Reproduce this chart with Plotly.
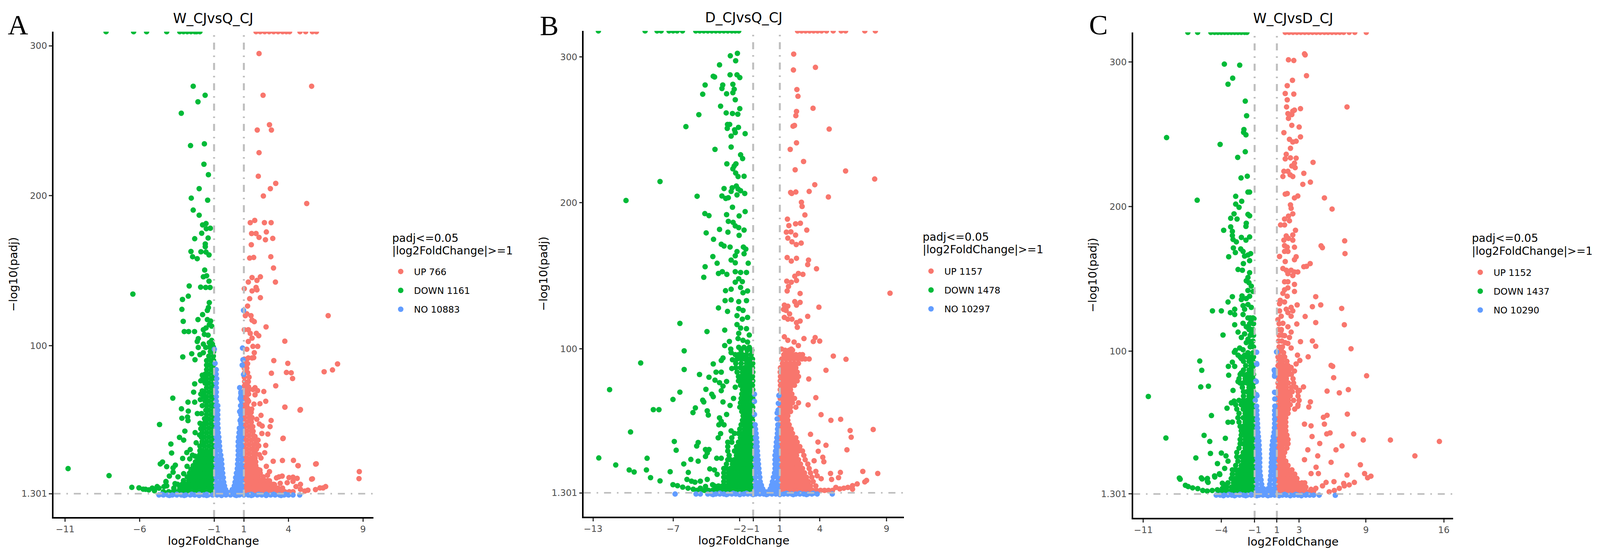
import plotly.graph_objects as go

RED, GREEN, BLUE = "#F8766D", "#00BA38", "#619CFF"
FONT = "DejaVu Sans"
LEGEND_LINES = ["padj<=0.05", "|log2FoldChange|>=1"]
TITLES = ["W_CJvsQ_CJ", "D_CJvsQ_CJ", "W_CJvsD_CJ"]
LETTERS = ["A", "B", "C"]
A_LABELS = ["UP 766", "DOWN 1161", "NO 10883"]
B_LABELS = ["UP 1157", "DOWN 1478", "NO 10297"]
C_LABELS = ["UP 1152", "DOWN 1437", "NO 10290"]
A_XTICKS = [-11, -6, -1, 1, 4, 9]
B_XTICKS = [-13, -7, -2, -1, 1, 4, 9]
C_XTICKS = [-11, -4, -1, 1, 3, 9, 16]
Y_TICKS = [1.301, 100, 200, 300]

# ---------- Panel A ----------
A_UP_PTS = [(1.82,309.4),(2.1,309.4),(2.4,309.4),(2.7,309.4),(3.0,309.4),(3.3,309.4),(3.6,309.4),(3.85,309.4),(4.07,309.4),(4.77,309.4),(5.15,309.4),(5.6,309.4),(5.87,309.4),
(2.02,294.8),(5.55,273),(2.29,267),(2.72,247.3),(1.9,243.8),(2.85,243.8),(2.02,228.7),(1.97,213),(3.14,208.2),(2.78,204.7),(2.31,199.8),(5.22,194.8),(1.43,182),(1.73,183.5),(2.38,182),(2.83,182),(1.52,174.8),(1.82,174.8),(2.51,175.8),(2.02,172.2),(2.45,170.6),(2.94,171.5),(1.5,167.3),(1.39,158.4),(1.66,158.8),(2.81,159.3),(2.99,151.8),(2.11,145.9),(1.55,145.4),(1.88,143.5),(1.3,142.4),(3.12,142.4),(1.03,138),(1.55,136.5),(1.82,138.8),(1.88,137.2),(2.11,132),(1.39,131.3),(1.25,126.4),(1.2,121.2),(1.48,120),(1.55,117),(1.7,116),(1.1,120),(6.66,120),(2.49,112.5),(1.03,110.6),(1.3,110.6),(1.43,108.2),(1.84,108.2),(2,106.6),(1.55,105),(1.3,102.8),(3.75,103),(1.93,99.5),(1.61,99.5),(1.2,97.6),(1.7,95.3),(1.55,91.8),(1.3,91.8),(1.66,92),(3.01,90),(3.95,88.2),(7.29,87.8),(6.95,83.8),(6.39,82.6),(3.86,82.1),(4.18,81.9),(2.85,81.6),(4.27,78.1),(3.14,73.2),
(2.34,69.4),(1.75,72),(1.92,70),(1.62,70.7),(1.75,67.2),(1.32,72.5),(1.32,67.7),(1.15,68),(2.47,62.9),(1.32,62.9),(1.11,63.3),(1.68,61),(2.08,61.3),(3.76,59),(4.8,57.4),(1.53,57.7),(1.24,58.6),(1.49,55.5),(2.15,53.5),(1.87,50.9),(2.83,50.1),(1.49,50.7),(2.04,47.7),(2.23,46.4),(2.76,46),(1.62,42.9),(2.21,41.4),(2.61,41),(3.64,38.3),(1.75,39.4),(1.83,36.8),(2.47,33.5),(2,33.2),(2.4,28.6),(1.7,30.7),(2.04,27.3),(2.15,25.1),(2.97,22.9),(3.59,23.4),(4.33,23.5),(5.86,21.2),(4.65,19.9),(2.51,19.5),(2.08,17),(2.72,16),(2.59,13.6),(3.19,11.8),(3.36,12.5),(3.57,13),(4.03,12),(4.3,12.3),(4.58,11.5),(4.3,9.5),(5.6,11.2),(3.91,8.6),(4.8,7.5),(4.5,6),(3.44,8.2),(3.06,7.3),(5.3,3.6),(5.81,4),(6.11,5.1),(6.49,6),(6.32,5.1),(4.8,4.2),(5.09,3),(2.72,9.9),(8.75,16),(8.73,11.3),(5.82,21),(5.55,11),(4.77,57),(3.75,59),(3.62,38),(4.63,20)]
A_UP_ROWS = [(2.6,[1.05,1.35,1.65,1.95,2.25,2.55,2.85,3.15,3.45,3.75,4.05,4.3]),(5,[1.03,1.2,1.5,1.8,2.1,2.4,2.7,3,3.3,3.6]),(7.5,[1.05,1.35,1.65,1.95,2.25,2.55,2.85,3]),(10,[1.03,1.2,1.5,1.8,2.1,2.4,2.6]),(12.5,[1.05,1.35,1.65,1.95,2.3]),(15,[1.03,1.2,1.5,1.8,2.1]),(17.5,[1.05,1.35,1.65,1.95]),(20,[1.03,1.2,1.5,1.8]),(22.5,[1.05,1.35,1.65,1.8]),(25,[1.03,1.2,1.5,1.75]),(28,[1.05,1.35,1.65,1.8]),(31,[1.03,1.2,1.5,1.85]),(34,[1.05,1.35,1.65,1.9]),(37,[1.03,1.2,1.5,1.8,1.95]),(40,[1.05,1.35,1.65]),(43,[1.03,1.2,1.5,1.6]),(46,[1.05,1.35,1.6]),(49,[1.03,1.2,1.5]),(52,[1.05,1.35,1.55]),(55,[1.03,1.2,1.4]),(58,[1.05,1.3]),(61,[1.03,1.2]),(64,[1.05,1.25]),(67,[1.03,1.2]),(70,[1.05,1.3]),(73,[1.03,1.25]),(76,[1.05,1.3]),(79,[1.03,1.35]),(82,[1.05,1.25]),(85,[1.03,1.2]),(88,[1.05,1.25]),(91,[1.03,1.2])]
A_DOWN_PTS = [(-8.25,309.4),(-6.4,309.4),(-5.53,309.4),(-4.18,309.4),(-3.3,309.4),(-3.05,309.4),(-2.8,309.4),(-2.55,309.4),(-2.3,309.4),(-2.17,309.4),(-1.95,309.4),
(-2.4,273),(-1.6,267),(-2.08,262.6),(-3.2,255),(-2.58,233.4),(-1.65,234.6),(-1.68,221),(-1.38,214),(-2,204.7),(-2.53,198.4),(-1.43,197),(-2.4,190.4),(-2,187),(-1.77,180.5),(-1.54,181.4),(-1.52,178),(-1.25,178.3),(-1.83,175),(-1.4,171.8),(-2.3,171.3),(-1.59,167.8),(-1.59,166),(-2.55,162.8),(-1.88,162.6),(-1.54,162.4),(-1.34,160.5),(-2.44,159.3),(-2.13,158),(-1.63,150.4),(-1.5,146.6),(-1.72,145.9),(-1.34,143),(-2.67,139.8),(-1.9,139),(-1.56,138.8),(-1.27,138.8),(-6.45,134.4),(-2.73,133),(-3.12,130.8),(-1.32,128.7),(-1.38,125.4),(-3.16,124.2),(-1.77,120.7),(-1.45,123.5),(-2.08,117.4),(-3.07,116.2),(-1.45,117.4),(-1.23,116.4),(-1.32,114),(-1.54,111.8),(-1.72,110.6),(-1.16,113),(-3,109.4),(-2.71,109.4),(-2.31,109.4),(-1.65,107.5),(-1.4,107),(-2.06,104.7),(-2.13,102.8),(-1.72,101),(-1.16,103.5),(-1.32,102),(-1.11,101),(-1.56,98.8),(-2.06,98.8),(-2.5,94.6),(-3.1,92.5),(-2.28,90.6),(-1.95,94),(-1.72,95.3),
(-2.3,74.5),(-2.37,69),(-3.77,65),(-1.89,76.6),(-1.79,80.3),(-1.79,69.8),(-1.89,67.7),(-1.92,64),(-2.3,62.3),(-2.75,62.3),(-1.79,60),(-3.19,57.9),(-2.73,56.3),(-2.12,54.7),(-1.84,54.7),(-3.16,51.6),(-2.78,52.4),(-2.75,50),(-1.64,51.3),(-4.66,47.4),(-1.94,48.2),(-2.96,43),(-2.27,42),(-1.97,40.4),(-1.89,44.6),(-3.32,38.8),(-3.04,37),(-2.2,35.2),(-1.79,34.6),(-3.9,34.4),(-3.85,28.4),(-2.6,30.7),(-2.83,28.7),(-2.45,27),(-2.27,26.3),(-3.11,24.8),(-2.63,24.5),(-4.46,22.4),(-4.61,21.1),(-4.18,19.3),(-3.6,20.3),(-3.75,18.5),(-2.81,19.5),(-3.75,15.6),(-4,13),(-4.23,9.1),(-3.04,14.6),(-3.42,12.5),(-3.62,8),
(-6.52,5.5),(-6.04,5.2),(-5.76,4.3),(-5.6,4.2),(-5.38,3.8),(-5.15,5),(-4.82,6),(-5,3.2),(-4.7,5),(-4.36,6),(-4.18,6.5),(-10.8,18),(-8.05,13.3),(-4.23,9.4)]
A_DOWN_ROWS = [(2.6,[-1.05,-1.35,-1.65,-1.95,-2.25,-2.55,-2.85,-3.15,-3.45,-3.75,-4.05,-4.4]),(5,[-1.03,-1.2,-1.5,-1.8,-2.1,-2.4,-2.7,-3,-3.3,-3.7]),(7.5,[-1.05,-1.35,-1.65,-1.95,-2.25,-2.55,-2.85,-3.15,-3.45]),(10,[-1.03,-1.2,-1.5,-1.8,-2.1,-2.4,-2.7,-3.05]),(12.5,[-1.05,-1.35,-1.65,-1.95,-2.25,-2.55,-2.8]),(15,[-1.03,-1.2,-1.5,-1.8,-2.1,-2.4,-2.65]),(17.5,[-1.05,-1.35,-1.65,-1.95,-2.25,-2.55]),(20,[-1.03,-1.2,-1.5,-1.8,-2.1,-2.4]),(22.5,[-1.05,-1.35,-1.65,-1.95,-2.25]),(25,[-1.03,-1.2,-1.5,-1.8,-2.1]),(27.5,[-1.05,-1.35,-1.65,-1.95]),(30,[-1.03,-1.2,-1.5,-1.8,-1.95]),(33,[-1.05,-1.35,-1.65,-1.95]),(36,[-1.03,-1.2,-1.5,-1.8]),(39,[-1.05,-1.35,-1.65,-1.85]),(42,[-1.03,-1.2,-1.5,-1.8]),(45,[-1.05,-1.35,-1.65,-1.85]),(48,[-1.03,-1.2,-1.5,-1.7]),(51,[-1.05,-1.35,-1.6]),(54,[-1.03,-1.2,-1.5]),(57,[-1.05,-1.35,-1.55]),(60,[-1.03,-1.2,-1.5]),(63,[-1.05,-1.35,-1.6]),(66,[-1.03,-1.2,-1.5,-1.7]),(69,[-1.05,-1.35,-1.65,-1.75]),(72,[-1.03,-1.2,-1.5]),(75,[-1.05,-1.35,-1.6]),(78,[-1.03,-1.2,-1.5,-1.75]),(81,[-1.05,-1.35,-1.6]),(84,[-1.03,-1.2,-1.5]),(87,[-1.05,-1.35,-1.5]),(90,[-1.03,-1.2,-1.5]),(93,[-1.05,-1.35]),(96,[-1.03,-1.25]),(99,[-1.05,-1.3])]
A_NO_PTS = [(0.98,123.5),(0.91,98.4),(0.94,90.6),(0.89,87),(0.98,80.7),(-0.98,97.6),(-0.93,88.2),(-0.82,78),(-0.86,81),(0.8,68.2),(0.76,64.7),(0.72,72),(0.78,60),(0.72,56),(0.75,50)]
A_NO_ROWS = [(0.4,[-4.7,-4.4,-4.1,-3.8,-3.5,-3.2,-2.9,-2.6,-2.3,-2,-1.7,-1.4,-1.1,-0.8,-0.5,-0.2,0.1,0.4,0.7,1,1.3,1.6,1.9,2.2,2.5,2.8,3.1,3.4,3.7,4,4.3,4.75]),(0.1,[-4,-3,-2,-1.5,-0.5,0.5,1.5,2.5,3.5]),(0.9,[-4.5,-3.5,-2.5,-2,-1.5,-0.5,0.5,1.5,2,2.5,3,3.8]),(2,[-0.85,-0.6,-0.35,-0.15,0,0.15,0.35,0.6,0.85]),(4,[-0.85,-0.6,-0.4,-0.22,0.22,0.4,0.6,0.85]),(6.5,[-0.85,-0.6,-0.3,0.36,0.6,0.85]),(9,[-0.85,-0.6,-0.35,0.41,0.6,0.85]),(12,[-0.85,-0.6,-0.38,0.45,0.65,0.85]),(15,[-0.85,-0.65,-0.42,0.5,0.7,0.85]),(18,[-0.85,-0.65,-0.45,0.56,0.75,0.85]),(21,[-0.85,-0.65,-0.48,0.58,0.85]),(24,[-0.85,-0.65,-0.5,0.6,0.85]),(27,[-0.85,-0.55,0.62,0.85]),(30,[-0.85,-0.6,0.62,0.85]),(33,[-0.85,-0.63,0.62,0.85]),(36,[-0.85,-0.65,0.62,0.85]),(39,[-0.85,-0.68,0.65,0.85]),(42,[-0.85,-0.72,0.68,0.85]),(45,[-0.85,-0.73,0.7,0.85]),(48,[-0.85,-0.75,0.8]),(51,[-0.85,-0.75,0.8]),(54,[-0.85,-0.75,0.8]),(57,[-0.85,-0.75,0.8]),(60,[-0.85,-0.75]),(63,[-0.85,0.85]),(66,[-0.85,0.8]),(69,[-0.85,0.8]),(72,[-0.85]),(75,[-0.85]),(84,[-0.85])]

# ---------- Panel B ----------
B_UP_PTS = [(2.33,317.8),(2.63,317.8),(2.93,317.8),(3.23,317.8),(3.53,317.8),(3.83,317.8),(4.13,317.8),(4.5,317.8),(5,317.8),(5.6,317.8),(5.93,317.8),(7.37,317.8),(8.16,317.8),
(2.04,301.9),(2.02,291),(3.67,292.8),(2.28,277.6),(2.36,273),(3.49,264.8),(2.25,262.6),(2.2,259.7),(1.99,252.5),(2.1,253),(4.7,250.5),(2.25,241.1),(1.78,236.6),(2.78,228.3),(2.15,222.6),(5.93,221.8),(8.11,216.3),(3.62,212.4),(1.81,207.1),(1.89,206.4),(2.2,207.4),(3.2,207.8),(4.64,204),(2.62,200.4),(2.67,197.5),(2.88,191.7),(1.57,188.8),(1.68,184.4),(2.18,185.6),(2.54,186),(3.02,181.3),(1.49,179.9),(1.83,180.1),(2.18,177.9),(1.6,175.8),(1.91,173.3),(2.23,171.4),(2.6,172.4),(1.55,162.5),(1.86,160.1),(2.25,162),(3.15,160.8),(3.09,157.7),(3.75,154.8),(2.73,151),(2.39,151.6),(2.12,149.7),(1.52,146.3),(1.86,145.6),(2.25,146.8),(1.65,142.7),(1.55,139.6),(2.52,137.9),(9.26,138.1),(2.12,132.3),(2.52,131.8),(2.25,129.9),(1.34,129.9),(1.6,129.2),(3.93,128.5),(1.28,127),(1.47,126.3),(1.73,123.9),(3.09,122.2),(1.34,121.5),(1.91,120.3),(2.25,117.9),(2.52,119),(1.6,120.3),(2.31,114.7),(1.34,108.2),(1.6,105.8),(2.81,107),(3.65,107.7),(3.51,105),(3.99,105.3),(2.07,104.6),(2.39,102.2),(1.13,99.8),(1.86,99.8),(5.01,95),(5.96,92.8),(4.46,85.3),(3.2,93),(3.17,79.3),(3.7,66.5),(3.12,61.6),(4.09,54.9),(4.83,51),(5.56,51.7),(8,44.7),(6.27,44),(6.35,39.4),(3.3,41.4),(3.86,36.1),(4.46,33.9),(6.03,30.8),(3.88,29.8),(4.22,25.7),(4.3,22.6),(3.57,23.3),(7.22,16),(8.34,14.6),(5.54,15.3),(4.8,14.6),(5.4,11.7),(4.88,10.5),(7.37,8.8),(7.5,9.8),(6.8,7.4),(6.45,6.2),(6.45,3.8),(5.8,4.5),(5.5,4),(5.2,5),(6.1,5),(3.8,13),(4.1,11),(3.7,16)]
B_UP_ROWS = [(3,[1.05,1.35,1.65,1.95,2.25,2.55,2.85,3.15,3.45,3.75,4.05,4.35,4.65,4.95]),(6,[1.03,1.2,1.5,1.8,2.1,2.4,2.7,3,3.3,3.7]),(9,[1.05,1.35,1.65,1.95,2.25,2.55,2.85,3.15,3.5]),(12,[1.03,1.2,1.5,1.8,2.1,2.4,2.7,3,3.4]),(15,[1.05,1.35,1.65,1.95,2.25,2.55,2.85,3.3]),(18,[1.03,1.2,1.5,1.8,2.1,2.4,2.7,3.2]),(21,[1.05,1.35,1.65,1.95,2.25,2.55,3.1]),(24,[1.03,1.2,1.5,1.8,2.1,2.4,2.9]),(27,[1.05,1.35,1.65,1.95,2.25,2.8]),(30,[1.03,1.2,1.5,1.8,2.1,2.4,2.7]),(33,[1.05,1.35,1.65,1.95,2.25,2.5]),(36,[1.03,1.2,1.5,1.8,2.1,2.3]),(39,[1.05,1.35,1.65,1.95,2.2]),(42,[1.03,1.2,1.5,1.8,1.95]),(45,[1.05,1.35,1.65,1.85]),(48,[1.03,1.2,1.5,1.7]),(51,[1.05,1.35,1.6]),(54,[1.03,1.2,1.5,1.6]),(57,[1.05,1.35,1.65,1.8]),(60,[1.03,1.2,1.5,1.8,2.2]),(63,[1.05,1.35,1.65,1.95,2.4]),(66,[1.03,1.2,1.5,1.8,2.1]),(69,[1.05,1.35,1.65,1.9]),(72,[1.03,1.2,1.5,1.8]),(75,[1.05,1.35,1.65,1.95,2.1]),(78,[1.03,1.2,1.5,1.8,2.1,2.3]),(81,[1.05,1.35,1.65,1.95,2.25,2.4]),(84,[1.03,1.2,1.5,1.8,2.1,2.3]),(87,[1.05,1.35,1.65,1.95,2.2]),(90,[1.2,1.5,1.8,2.1,2.4]),(93,[1.15,1.45,1.75,2.05,2.35,2.65,2.9]),(96,[1.3,1.6,1.9,2.2,2.5,2.7]),(99,[1.4,1.7,1.95])]
B_DOWN_PTS = [(-12.6,317.8),(-9.1,317.8),(-8.2,317.8),(-7.9,317.8),(-7.3,317.8),(-7,317.8),(-6.7,317.8),(-6.3,317.8),(-5.3,317.8),(-5,317.8),(-4.7,317.8),(-4.4,317.8),(-4.1,317.8),(-3.8,317.8),(-3.5,317.8),(-3.2,317.8),(-2.9,317.8),(-2.6,317.8),(-2.34,317.8),(-2.08,317.8),
(-2.18,302.4),(-2.71,300.7),(-2.31,297.3),(-3.52,294.5),(-2.73,287.7),(-2.21,287.7),(-2,285.8),(-3.99,286.7),(-3.89,286.2),(-4.6,280.7),(-3.28,280.7),(-2.52,281.2),(-3.34,278.3),(-2.42,277.8),(-2.99,274.7),(-4.78,274.4),(-2.52,275.4),(-2.34,270.6),(-3.44,266.2),(-2,264.5),(-3.02,261.6),(-2.55,261.2),(-2.15,260.7),(-5.07,260.4),(-2.92,253.7),(-2.76,253.7),(-6.04,252.2),(-2.94,251),(-2.1,251.7),(-2.39,250),(-1.6,247.4),(-2.65,245.7),(-2.34,248.1),(-2.65,238.2),(-3.86,236.6),(-1.94,232.9),(-1.79,230.3),(-2.97,226.7),(-2.29,226.7),(-2.42,225.2),(-2.52,223.3),(-2.31,220.4),(-2.13,218),(-1.68,218.2),(-7.98,214.6),(-3.18,209.8),(-2.57,210.3),(-2.26,211.5),(-2.65,207.8),(-2.13,209.5),(-1.94,208.3),(-1.63,206.4),(-3.34,204.7),(-5.2,204.5),(-2.86,203.5),(-2.21,205.4),(-10.53,201.6),(-3.05,203),(-2.55,197),(-4.62,192.6),(-4.31,191.2),(-2.99,191.9),(-2.05,191),(-1.6,194),(-2.86,187.3),(-2.5,186.6),(-2.34,184.2),(-3.52,181.8),(-4.52,179.4),(-2.89,179.9),(-2.08,183),(-1.68,181.3),(-2.05,177.7),(-3.97,175),(-3.39,171.6),(-3.18,170.4),(-2.73,169.7),(-1.73,169.7),(-1.55,168.3),(-2.21,166.6),(-2.34,163.7),(-1.68,165.1),(-4.02,163.2),(-2.65,160.8),(-1.37,158.6),(-3.7,158.6),(-4.6,156.2),(-2.34,158.9),(-4.7,149),(-3.31,152.8),(-3.6,151.6),(-2.97,151),(-2.34,152.8),(-1.94,152.3),(-1.5,152.3),(-2.08,148),(-1.81,146),(-2.34,145.6),(-3.07,139.8),(-2.65,140.8),(-1.94,142),(-1.42,139.6),(-1.76,138.4),(-3.1,133),(-2.65,133.5),(-2.08,132.3),(-1.5,133),(-3.6,128),(-2.92,125.6),(-2.08,127.5),(-1.76,126.3),(-2.21,122.7),(-1.42,121.5),(-1.81,120.3),(-2.21,116.6),(-6.49,117.4),(-1.94,114.2),(-1.5,113.8),(-4.46,111.8),(-3.13,112.8),(-2.08,110.6),(-1.29,109.4),(-2.13,107),(-2.78,105),(-3.13,102.2),(-1.76,105.8),(-1.42,104.6),(-2.68,99.8),(-2.08,101),(-6.17,98.6),(-2.65,97.4),(-1.68,101),(-1.29,101),(-2.34,96),(-3.26,93.7),(-2.55,92.5),(-3.39,92),(-9.43,90.3),(-3.99,89.6),(-6.17,85.8),(-2.6,86.5),(-3.39,84),(-3.78,84),(-5.02,82.4),(-4.31,80.5),(-3.86,78.5),(-2.99,77.6),(-3.52,76.8),(-3.26,74.4),(-2.34,73.7),(-11.76,72),(-4.54,72.2),(-6.49,70.3),(-3.39,71.3),(-4.1,68.9),(-7.01,65.3),(-4.78,64.8),(-3.99,67.2),(-4.7,63.6),(-2.47,66),(-3.26,63.6),(-8.48,58.3),(-8.06,58.3),(-5.33,59.5),(-5.51,56.3),(-4.44,57.5),(-4.36,54.6),(-2.73,61.2),(-2.99,55),(-3.52,52.7),(-3.57,47.9),(-3.39,50.3),(-10.19,43),(-3.18,47.9),(-2.65,43.8),(-3.44,41.9),(-3.62,39),(-6.91,36.5),(-5.12,35.8),(-5.23,33.4),(-6.77,30.5),(-4.57,31),(-4.31,31),(-4.44,28.6),(-4.57,26.2),(-12.57,25.2),(-8.95,25),(-5.67,24.2),(-5.12,23),(-6.2,21.1),(-3.73,25),(-3.39,25),(-11.3,20.4),(-10.29,17),(-9.92,15.6),(-9,17),(-7.22,15.8),(-5.86,15.3),(-4.25,17.7),(-3.9,17),(-3.7,14),(-8.69,11.7),(-5.96,10.5),(-5.62,9.3),(-5.36,8.6),(-4.96,9.3),(-7.98,9.5),(-4.44,10.5),(-4.04,6.9),(-7.01,6.9),(-6.67,6.2),(-6.28,5.2),(-5.88,4.5),(-5.49,3.8),(-4.96,4.5),(-4.57,5.7)]
B_DOWN_ROWS = [(3,[-1.05,-1.35,-1.65,-1.95,-2.25,-2.55,-2.85,-3.15,-3.45,-3.75,-4.05,-4.35,-4.65,-4.95,-5.2]),(6,[-1.03,-1.2,-1.5,-1.8,-2.1,-2.4,-2.7,-3,-3.3,-3.6,-3.9]),(9,[-1.05,-1.35,-1.65,-1.95,-2.25,-2.55,-2.85,-3.2]),(12,[-1.03,-1.2,-1.5,-1.8,-2.1,-2.4,-2.7,-3,-3.2]),(15,[-1.05,-1.35,-1.65,-1.95,-2.25,-2.55,-2.85,-3.2]),(18,[-1.03,-1.2,-1.5,-1.8,-2.1,-2.4,-2.7,-3,-3.2]),(21,[-1.05,-1.35,-1.65,-1.95,-2.25,-2.55,-3]),(24,[-1.03,-1.2,-1.5,-1.8,-2.1,-2.4,-2.7,-2.9]),(27,[-1.05,-1.35,-1.65,-1.95,-2.25,-2.8]),(30,[-1.03,-1.2,-1.5,-1.8,-2.1,-2.4,-2.9]),(33,[-1.05,-1.35,-1.65,-1.95,-2.25,-2.9]),(36,[-1.03,-1.2,-1.5,-1.8,-2.1,-2.6,-2.9]),(39,[-1.05,-1.35,-1.65,-1.95,-2.6]),(42,[-1.03,-1.2,-1.5,-1.8,-2.1,-2.4]),(45,[-1.05,-1.35,-1.65,-2]),(48,[-1.03,-1.2,-1.5,-1.8,-1.9]),(51,[-1.05,-1.35,-1.65,-1.8]),(54,[-1.03,-1.2,-1.5,-1.75]),(57,[-1.05,-1.35,-1.65,-1.85]),(60,[-1.03,-1.2,-1.5,-1.8,-2]),(63,[-1.05,-1.35,-1.65,-1.95]),(66,[-1.03,-1.2,-1.5,-1.8,-1.9]),(69,[-1.05,-1.35,-1.65,-1.85]),(72,[-1.03,-1.2,-1.5,-1.8]),(75,[-1.05,-1.35,-1.65,-1.95]),(78,[-1.03,-1.2,-1.5,-1.8,-2.1]),(81,[-1.05,-1.35,-1.65,-1.95,-2.1]),(84,[-1.03,-1.2,-1.5,-1.8,-2.2]),(87,[-1.05,-1.35,-1.65,-1.95,-2.3]),(90,[-1.03,-1.2,-1.5,-1.9,-2.3]),(93,[-1.05,-1.35,-1.65,-1.9,-2.2]),(96,[-1.15,-1.5,-1.8,-2.1]),(99,[-1.1,-1.45,-1.9])]
B_NO_PTS = [(-6.85,0.5),(-5.28,0.5),(-4.96,0.5),(4.93,0.5),(-0.9,68.9),(-0.9,64),(0.93,68),(0.89,62.6),(0.8,56),(0.8,52),(-0.9,55),(0.87,58)]
B_NO_ROWS = [(0.5,[-4.4,-4.1,-3.8,-3.5,-3.2,-2.9,-2.6,-2.3,-2,-1.7,-1.4,-1.1,-0.8,-0.5,-0.2,0.1,0.4,0.7,1,1.3,1.6,1.9,2.2,2.5,2.8,3.1,3.4,3.8]),(0.1,[-4,-3,-2,-1,0,1,2,3]),(1,[-3.5,-2.5,-1.5,-0.5,0.5,1.5,2.5,3.5]),(2,[-0.82,-0.55,-0.3,-0.1,0.1,0.3,0.55,0.82]),(4,[-0.82,-0.55,-0.28,0.28,0.55,0.82]),(6.5,[-0.82,-0.6,-0.38,0.38,0.6,0.82]),(9,[-0.82,-0.47,0.45,0.82]),(12,[-0.82,-0.5,0.52,0.82]),(15,[-0.82,-0.54,0.6,0.82]),(18,[-0.82,-0.57,0.64,0.82]),(21,[-0.82,-0.6,0.64,0.82]),(24,[-0.82,-0.63,0.64,0.82]),(27,[-0.82,-0.66,0.64,0.82]),(30,[-0.82,-0.68,0.68,0.82]),(33,[-0.82,-0.7,0.72,0.82]),(36,[-0.82,-0.71,0.74,0.82]),(39,[-0.82,-0.75,0.78]),(42,[-0.82,-0.78,0.82]),(45,[-0.82,0.83]),(48,[-0.85,0.85])]

# ---------- Panel C ----------
C_UP_PTS = [(1.75,320.5),(2.1,320.5),(2.45,320.5),(2.8,320.5),(3.15,320.5),(3.5,320.5),(3.85,320.5),(4.2,320.5),(4.55,320.5),(4.9,320.5),(5.27,320.5),(5.6,320.5),(5.95,320.5),(6.3,320.5),(6.65,320.5),(7,320.5),(7.5,320.5),(8,320.5),(9.03,320.5),
(3.48,305.6),(3.54,304.9),(2.04,301.5),(2.52,301),(3.66,290.5),(2.4,287.3),(1.93,283.6),(1.75,278.2),(2.52,277.8),(1.93,273.8),(1.87,268.9),(3.12,267.7),(7.3,268.9),(2.43,266),(2.58,266.7),(1.99,264.3),(2.34,263.6),(2.04,261),(2.34,256.2),(3,255),(1.63,251.1),(3.12,248.2),(2.13,246.5),(2.43,244.7),(2.73,245.2),(2.22,240.3),(1.84,236.2),(1.75,233),(2.22,233.7),(2.73,233.5),(4.25,230.6),(2.58,230),(2.34,228.1),(2.64,226.9),(1.63,224.4),(1.99,224.4),(2.19,222),(3.42,223),(1.54,220.8),(2.43,220.8),(4.01,216.9),(3.33,215.4),(1.93,209),(1.75,208.6),(2.88,207.3),(2.58,206),(5.27,206),(2.22,201.2),(2.28,198.8),(5.96,198.3),(2.43,195),(2.04,193.4),(1.69,191.4),(2.13,190.2),(1.33,187.3),(1.69,187.3),(2.67,183.6),(2.43,180.4),(1.84,179.7),(1.63,176.8),(2.04,178),(2.43,176.8),(7.09,176.3),(4.97,172.9),(5.09,171.6),(1.69,173),(1.93,171.9),(2.58,171.9),(1.69,169),(1.99,169),(1.24,165.5),(7.12,167.5),(2.73,165.3),(2.58,163.3),(1.75,162),(3.99,160.6),(3.42,158.4),(3.66,158.7),(1.54,157.2),(1.84,156),(2.28,156),(2.58,154.8),(2.88,154.8),(1.99,153.6),(2.43,152.3),(1.69,148),(1.99,148),(2.58,146.2),(1.69,142.5),(1.99,143.8),(2.58,141.3),(1.54,140),(1.93,138),(4.49,137.7),(1.3,135.2),(1.69,134),(1.24,132.8),(4.94,132),(2.82,132),(4.19,130.8),(6.82,129.6),(1.84,129),(2.28,130.3),(1.24,127.9),(1.99,126.7),(2.43,127.9),(1.39,124.2),(3.54,124),(2.28,124.2),(1.09,121.8),(1.54,119.3),(2.79,118.8),(4.49,119.8),(7.06,118.3),(1.99,116.9),(1.39,114.4),(2.28,113.2),(1.69,110.8),(2.13,109.5),(3.12,106.6),(4.19,107.1),(1.99,105.4),(4.49,103.4),(1.75,105.9),(7.66,101.7),(2.28,102.2),(1.39,101),(2.85,97.3),(3.81,96.1),(3.06,93.6),(2.73,91.2),(5.87,90.2),(6.01,89.5),(6.1,81.7),(9.06,83),(2.28,88.8),(2.58,86.3),(3.39,75.3),(5.51,72.4),(6.61,71.2),(7.42,73.4),(3.03,72.9),(4.01,65),(3.87,61.4),(2.88,61.9),(7.33,56.5),(5.51,55.7),(5.18,54.3),(5.27,49.6),(3.48,49.6),(4.07,48.4),(5.78,43.5),(5.48,42.8),(7.9,42.8),(4.16,41),(8.76,38.6),(11.2,38.6),(15.6,37.6),(4.85,36.2),(6.85,34.5),(6.31,31.8),(13.4,27.6),(4.67,27.6),(5.87,23.2),(8.5,21.5),(3.78,31.8),(3.48,25),(4.52,19.8),(7.3,14.4),(8.88,15.4),(9.45,13.6),(9.15,12.5),(6.13,9.8),(7,8.6),(4.73,15.4),(5.42,9.3),(4.07,15.4),(7.96,9.3),(7.5,7.6),(7.06,6.9),(6.61,5.2),(6.16,3.7),(5.7,2.8),(5.1,6.9),(4.5,5.2),(4.07,4.5)]
C_UP_ROWS = [(3,[1.15,1.5,1.85,2.2,2.55,2.9,3.25,3.6,3.95,4.3]),(6,[1.1,1.33,1.68,2.03,2.38,2.73,3.08,3.43,3.6]),(9,[1.15,1.5,1.85,2.2,2.55,2.9,3.25,3.5]),(12,[1.1,1.33,1.68,2.03,2.38,2.73,2.8]),(15,[1.15,1.5,1.85,2.2,2.6]),(18,[1.1,1.33,1.68,2.03,2.35]),(21,[1.15,1.5,1.85,2]),(24,[1.1,1.33,1.68,1.8]),(27,[1.15,1.5,1.6]),(30,[1.1,1.33,1.7]),(33,[1.15,1.5,1.9]),(36,[1.1,1.33,1.68,2]),(39,[1.15,1.5,1.85,2]),(42,[1.1,1.33,1.68,1.9]),(45,[1.15,1.5,1.8]),(48,[1.1,1.33,1.68,1.8]),(51,[1.15,1.5,1.8]),(54,[1.1,1.33,1.68,1.8]),(57,[1.15,1.5,1.85,2]),(60,[1.1,1.33,1.68,2.03,2.6]),(63,[1.15,1.5,1.85,2.2,2.9]),(66,[1.1,1.33,1.68,2.03,2.5,3]),(69,[1.15,1.5,1.85,2.2,2.9]),(72,[1.1,1.33,1.68,2.03,2.38,2.9]),(75,[1.15,1.5,1.85,2.3,2.7]),(78,[1.1,1.33,1.68,2.03,2.5]),(81,[1.15,1.5,1.85,2.45]),(84,[1.1,1.33,1.68,2.03,2.3]),(87,[1.15,1.5,1.85,2.1]),(90,[1.1,1.33,1.68,2]),(93,[1.15,1.5,1.9]),(96,[1.1,1.33,1.7]),(99,[1.15,1.6]),(103,[1.2,1.5]),(107,[1.15,1.45]),(111,[1.2,1.5]),(115,[1.15,1.4]),(119,[1.2])]
C_DOWN_PTS = [(-7,320.5),(-6.12,320.5),(-4.93,320.5),(-4.6,320.5),(-4.3,320.5),(-4,320.5),(-3.7,320.5),(-3.4,320.5),(-3.1,320.5),(-2.8,320.5),(-2.5,320.5),(-2.2,320.5),(-1.9,320.5),(-1.69,320.5),
(-3.72,298.5),(-2.34,297.8),(-2.97,288.8),(-3.39,284.6),(-1.84,272.9),(-1.72,262.8),(-1.96,253.3),(-1.99,251.3),(-1.78,249.6),(-8.91,247.7),(-4.1,243),(-1.84,237.9),(-2.52,234),(-2.22,219.8),(-1.66,221),(-1.6,210),(-1.45,210),(-2.7,207.1),(-6.16,204.4),(-2.16,203.7),(-2.7,201.7),(-2.4,199.5),(-1.6,194.6),(-2.85,195),(-1.45,193.6),(-3.15,191.9),(-2.58,191.4),(-1.75,188.5),(-3.15,186),(-1.78,186.3),(-3.78,183.6),(-3,182.9),(-3,180),(-1.45,179),(-2.19,178.7),(-2.94,177.3),(-1.78,176.8),(-2.64,175.6),(-2.91,171.4),(-2.25,170.7),(-2.04,169),(-2.73,168.2),(-1.36,167.5),(-3.33,165.3),(-1.9,165.8),(-1.6,166.5),(-1.45,162.6),(-2.01,160.6),(-2.49,156.5),(-2.1,156),(-1.45,154.3),(-1.6,151),(-1.75,148.7),(-1.51,147.4),(-1.3,145),(-1.6,142),(-1.15,141.3),(-3,137.7),(-2.13,138.2),(-3.39,134),(-2.19,135.7),(-1.75,136.4),(-1.45,138),(-2.04,131.5),(-1.6,132.3),(-4.79,127.9),(-3.99,127.9),(-2.79,129),(-3.18,126.7),(-2.79,125.4),(-1.9,129),(-1.3,130.3),(-2.04,125.4),(-1.06,122.5),(-1.6,123),(-1.33,120.5),(-2.04,119.3),(-2.79,118.3),(-1.75,116.9),(-1.45,115.6),(-2.49,113.2),(-3.84,111.2),(-1.9,112),(-1.3,112),(-2.19,109.5),(-1.6,108.3),(-1.75,105.9),(-1.3,104.6),(-2.73,100.5),(-2.34,102.2),(-2.04,101),(-2.82,99.3),(-2.49,97.3),(-1.9,97.3),(-2.19,94.9),(-1.6,97.3),(-5.93,93.2),(-3,92.4),(-2.79,89.5),(-3.36,89.5),(-5.75,86.8),(-3.33,83.4),(-2.19,85),(-5.84,75.3),(-5.15,75.8),(-2.94,72.9),(-2.49,79),(-10.55,68.7),(-3.09,64.3),(-3.48,60.6),(-2.85,65.5),(-4.88,55.5),(-3.39,50.9),(-3,51),(-5.54,41.8),(-8.97,40),(-3.63,39.8),(-5.03,37.6),(-4.97,29.3),(-6.28,26.2),(-3.99,29.6),(-4.34,22.3),(-3.57,27.6),(-3.39,24),(-7.69,11.5),(-5.72,11.7),(-5.24,12),(-5.18,9.3),(-4.58,13),(-4.13,14.7),(-3.81,8),(-3.69,19),
(-7.22,7.3),(-6.97,6.4),(-6.57,5.5),(-6.11,5),(-5.66,3.7),(-5.26,3.3),(-4.81,3.7),(-4.35,4.2),(-3.9,8.7),(-3.9,5.1),(-5.26,11.8),(-5.24,10),(-5.79,12.4),(-4.6,13.8),(-4.16,15.3),(-7.76,12.3)]
C_DOWN_ROWS = [(3,[-1.15,-1.5,-1.85,-2.2,-2.55,-2.9,-3.25,-3.6,-3.9,-4.2]),(6,[-1.1,-1.33,-1.68,-2.03,-2.38,-2.73,-3.08,-3.5]),(9,[-1.15,-1.5,-1.85,-2.2,-2.55,-2.9,-3.4]),(12,[-1.1,-1.33,-1.68,-2.03,-2.38,-2.73,-3.1]),(15,[-1.15,-1.5,-1.85,-2.2,-2.55,-3]),(18,[-1.1,-1.33,-1.68,-2.03,-2.38,-2.73,-3]),(21,[-1.15,-1.5,-1.85,-2.2,-2.7]),(24,[-1.1,-1.33,-1.68,-2.03,-2.5]),(27,[-1.15,-1.5,-1.85,-2.2,-2.6]),(30,[-1.1,-1.33,-1.68,-2.03,-2.6]),(33,[-1.15,-1.5,-1.85,-2.4]),(36,[-1.1,-1.33,-1.68,-2.03,-2.3]),(39,[-1.15,-1.5,-1.85,-2.3]),(42,[-1.1,-1.33,-1.68,-2.03,-2.2]),(45,[-1.15,-1.5,-1.85,-2.2]),(48,[-1.1,-1.33,-1.68,-2.03,-2.3]),(51,[-1.15,-1.5,-1.85,-2.4]),(54,[-1.1,-1.33,-1.68,-2.03,-2.5]),(57,[-1.15,-1.5,-1.85,-2.4]),(60,[-1.1,-1.33,-1.68,-2.03,-2.6]),(63,[-1.15,-1.5,-1.85,-2.2,-2.7]),(66,[-1.1,-1.33,-1.68,-2.03,-2.4]),(69,[-1.15,-1.5,-2]),(72,[-1.1,-1.33,-1.68,-2]),(75,[-1.15,-1.5,-2.1]),(78,[-1.1,-1.33,-1.68,-2.03,-2.3]),(81,[-1.15,-1.5,-1.85,-2.4]),(84,[-1.1,-1.33,-1.68,-2.03,-2.3]),(87,[-1.15,-1.5,-2]),(90,[-1.1,-1.33,-1.8]),(93,[-1.15,-1.5,-2]),(96,[-1.1,-1.33,-1.68,-2.03,-2.3]),(99,[-1.15,-1.6]),(103,[-1.1,-1.4]),(107,[-1.15,-1.5]),(111,[-1.1,-1.4]),(115,[-1.15,-1.5]),(119,[-1.1,-1.45]),(123,[-1.15,-1.4])]
C_NO_PTS = [(-0.8,91),(0.76,87),(0.8,83.5),(-0.89,79.4),(-0.83,70),(0.87,71.3),(0.81,67),(-0.94,66),(-0.82,99.3),(0.97,99.5),(-0.82,91.5),(0.79,86.3),(0.79,82.7),(-0.85,79),(-0.79,69.2),(0.79,71.6),(6.25,0.4),(4.8,0.5)]
C_NO_ROWS = [(0.5,[-4.45,-4.1,-3.75,-3.4,-3.05,-2.7,-2.35,-2,-1.65,-1.3,-0.95,-0.6,-0.25,0.1,0.45,0.8,1.15,1.5,1.85,2.2,2.55,2.9,3.25,3.6,3.95,4.3]),(0.1,[-3.8,-2.8,-1.8,-0.8,0.2,1.2,2.2,3.2]),(1,[-3.3,-2.3,-1.3,-0.3,0.7,1.7,2.7,3.7]),(2.5,[-0.78,-0.45,-0.15,0.15,0.45,0.78]),(5,[-0.78,-0.45,-0.22,0.22,0.45,0.78]),(8,[-0.78,-0.37,0.36,0.78]),(11,[-0.78,-0.42,0.4,0.78]),(14,[-0.78,-0.48,0.44,0.78]),(17,[-0.78,-0.52,0.47,0.78]),(20,[-0.78,-0.54,0.48,0.78]),(23,[-0.78,-0.54,0.5,0.78]),(26,[-0.78,-0.54,0.52,0.78]),(29,[-0.78,-0.56,0.53,0.78]),(32,[-0.78,-0.58,0.55,0.78]),(35,[-0.78,-0.6,0.57,0.78]),(38,[-0.78,-0.62,0.62,0.78]),(41,[-0.78,-0.66,0.68,0.78]),(44,[-0.78,-0.7,0.75]),(47,[-0.78,-0.72,0.78]),(50,[-0.78,-0.74,0.8]),(53,[-0.78,-0.76,0.8]),(56,[-0.8,0.8]),(59,[-0.8,0.8]),(62,[-0.82,0.82])]


def flat(points, rows):
    xs = [p[0] for p in points]
    ys = [p[1] for p in points]
    for y, row in rows:
        xs += row
        ys += [y] * len(row)
    return xs, ys


PANELS = [
    dict(labels=A_LABELS, up=flat(A_UP_PTS, A_UP_ROWS), down=flat(A_DOWN_PTS, A_DOWN_ROWS), no=flat(A_NO_PTS, A_NO_ROWS),
         xticks=A_XTICKS, xrange=[-11.78, 9.7], yrange=[-14.3, 309.4], px=(141.5, 988, 81, 1323),
         legend=(1025, 673), lines=(1035, 609, 641), letter=(48, 64), title_y=47),
    dict(labels=B_LABELS, up=flat(B_UP_PTS, B_UP_ROWS), down=flat(B_DOWN_PTS, B_DOWN_ROWS), no=flat(B_NO_PTS, B_NO_ROWS),
         xticks=B_XTICKS, xrange=[-13.7, 10.31], yrange=[-15, 317.8], px=(1544.3, 2391.7, 79, 1322),
         legend=(2428, 672), lines=(2439, 606, 639), letter=(1453, 66), title_y=45),
    dict(labels=C_LABELS, up=flat(C_UP_PTS, C_UP_ROWS), down=flat(C_DOWN_PTS, C_DOWN_ROWS), no=flat(C_NO_PTS, C_NO_ROWS),
         xticks=C_XTICKS, xrange=[-11.92, 16.82], yrange=[-15.2, 320.5], px=(2997.7, 3844, 82.7, 1325),
         legend=(3881, 675), lines=(3892, 610, 642), letter=(2906, 64), title_y=47),
]

# the photographed page is only 4096 px wide, so the figure is laid out at that width.
W, H = 4233, 1415
PAGE_W = 4096
fig = go.Figure()
layout = dict(width=PAGE_W, height=H, margin=dict(l=0, r=0, t=0, b=0), paper_bgcolor="white", plot_bgcolor="white",
              font=dict(family=FONT), annotations=[], shapes=[])

for i, p in enumerate(PANELS):
    n = "" if i == 0 else str(i + 1)
    xa, ya, lg = f"x{n}", f"y{n}", f"legend{n}"
    for key, color, label in zip(("up", "down", "no"), (RED, GREEN, BLUE), p["labels"]):
        fig.add_trace(go.Scatter(x=p[key][0], y=p[key][1], mode="markers", name=label, xaxis=xa, yaxis=ya,
                                 legend=lg, legendgroup=f"{i}{key}",
                                 marker=dict(color=color, size=14, line=dict(width=0))))
    l, r, t, b = p["px"]
    axis_font = dict(family=FONT, size=23, color="#4D4D4D")
    title_font = dict(family=FONT, size=29, color="black")
    layout[f"xaxis{n}"] = dict(domain=[l / W, r / W], range=p["xrange"], anchor=ya, showgrid=False, zeroline=False,
                               showline=True, linecolor="black", linewidth=3.5, ticks="outside", ticklen=8, tickwidth=3,
                               tickcolor="#333333", tickfont=axis_font, tickvals=p["xticks"], tickangle=0,
                               ticktext=[str(v).replace("-", "\u2212") for v in p["xticks"]],
                               title=dict(text="log2FoldChange", font=title_font, standoff=4))
    layout[f"yaxis{n}"] = dict(domain=[1 - b / H, 1 - t / H], range=p["yrange"], anchor=xa, showgrid=False, zeroline=False,
                               showline=True, linecolor="black", linewidth=3.5, ticks="outside", ticklen=8, tickwidth=3,
                               tickcolor="#333333", tickfont=axis_font, tickvals=Y_TICKS,
                               ticktext=["1.301", "100", "200", "300"],
                               title=dict(text="\u2212log10(padj)", font=title_font, standoff=3))
    layout[lg] = dict(x=p["legend"][0] / W, y=1 - p["legend"][1] / H, xanchor="left", yanchor="top",
                      bgcolor="rgba(0,0,0,0)", borderwidth=0, itemwidth=58, tracegroupgap=15,
                      font=dict(family=FONT, size=23.3, color="black"))
    dash = "18px,15px,4px,15px"
    grey = "#BEBEBE"
    for v in (-1, 1):
        layout["shapes"].append(dict(type="line", xref=xa, yref=f"{ya} domain", x0=v, x1=v, y0=0, y1=1, layer="above",
                                     line=dict(color=grey, width=5, dash=dash)))
    layout["shapes"].append(dict(type="line", xref=f"{xa} domain", yref=ya, x0=0, x1=1, y0=1.301, y1=1.301, layer="above",
                                 line=dict(color=grey, width=4, dash=dash)))
    layout["annotations"].append(dict(text=TITLES[i], xref="paper", yref="paper", x=(l + r) / 2 / W, y=1 - p["title_y"] / H,
                                      xanchor="center", yanchor="middle", showarrow=False,
                                      font=dict(family=FONT, size=35, color="black")))
    layout["annotations"].append(dict(text=LETTERS[i], xref="paper", yref="paper", x=p["letter"][0] / W, y=1 - p["letter"][1] / H,
                                      xanchor="center", yanchor="middle", showarrow=False,
                                      font=dict(family="Liberation Serif", size=72, color="black")))
    lx, ly1, ly2 = p["lines"]
    for line_text, ly in zip(LEGEND_LINES, (ly1, ly2)):
        layout["annotations"].append(dict(text=line_text, xref="paper", yref="paper", x=lx / W, y=1 - ly / H,
                                          xanchor="left", yanchor="middle", showarrow=False,
                                          font=dict(family=FONT, size=28, color="black")))

fig.update_layout(**layout)
fig.write_html("out.html", post_script="document.body.style.margin='0';", config={"displayModeBar": False})
